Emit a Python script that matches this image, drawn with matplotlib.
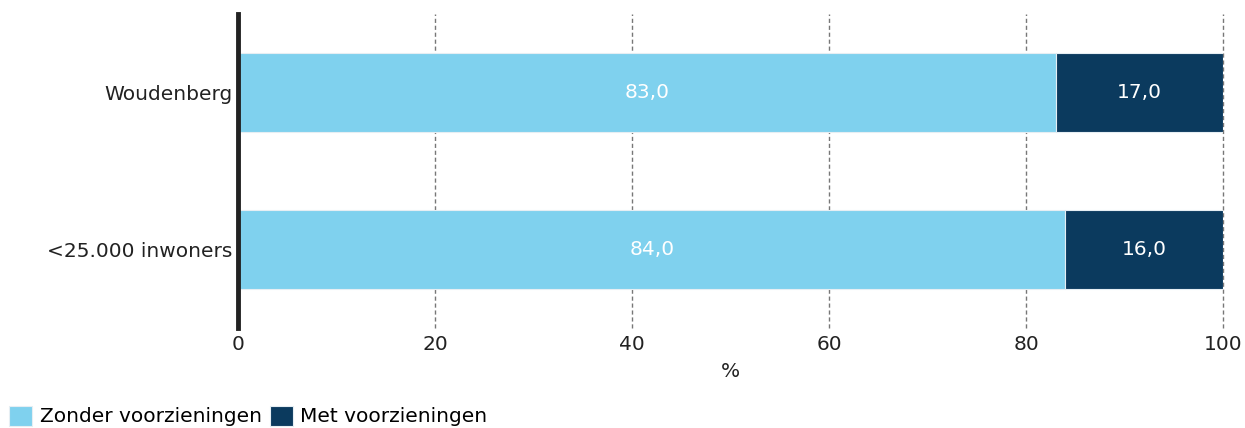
import numpy as np
import matplotlib.pyplot as plt

categories = ["Woudenberg", "<25.000 inwoners"]
zonder = [83.0, 84.0]
met = [17.0, 16.0]
series_names = ["Zonder voorzieningen", "Met voorzieningen"]
colors = ["#7fd1ee", "#0b3a5e"]
xticks = [0, 20, 40, 60, 80, 100]

plt.rcParams['font.family'] = 'DejaVu Sans'
fs = 14.5
fig = plt.figure(figsize=(12.45, 4.28), dpi=100)
ax = fig.add_axes([0.1912, 0.2336, 0.7912, 0.7336])

y = np.arange(len(categories))
b1 = ax.barh(y, zonder, height=0.5, color=colors[0], edgecolor="#e6eef3", linewidth=0.8,
             label=series_names[0], zorder=3)
b2 = ax.barh(y, met, left=zonder, height=0.5, color=colors[1], edgecolor="#e6eef3", linewidth=0.8,
             label=series_names[1], zorder=3)

for bars, vals in [(b1, zonder), (b2, met)]:
    for rect, v in zip(bars, vals):
        ax.text(rect.get_x() + rect.get_width() / 2, rect.get_y() + rect.get_height() / 2,
                f"{v:.1f}".replace(".", ","), ha="center", va="center",
                color="white", fontsize=fs, zorder=4)

ax.set_xlim(0, 100)
ax.set_ylim(1.5, -0.5)
ax.set_yticks(y)
ax.set_yticklabels(categories, fontsize=fs, color="#222222")
ax.set_xticks(xticks)
ax.set_xticklabels([str(t) for t in xticks], fontsize=fs, color="#222222")
ax.tick_params(length=0, pad=4)
ax.tick_params(axis="x", pad=5)
ax.set_xlabel("%", fontsize=fs, color="#222222", labelpad=6)

ax.grid(axis="x", color="#777777", linestyle=(0, (3, 2)), linewidth=1.0, zorder=0)
for gl in ax.get_xgridlines():
    gl.set_clip_on(False)
for s in ["top", "right", "bottom"]:
    ax.spines[s].set_visible(False)
ax.spines["left"].set_linewidth(3.5)
ax.spines["left"].set_color("#222222")
ax.spines["left"].set_zorder(5)

fig.legend(loc="lower left", bbox_to_anchor=(0.001, -0.015), ncol=2, frameon=False,
           fontsize=fs, handlelength=1.15, handleheight=1.15, handletextpad=0.35,
           columnspacing=0.4, borderaxespad=0)

fig.savefig("out.png", dpi=100)
